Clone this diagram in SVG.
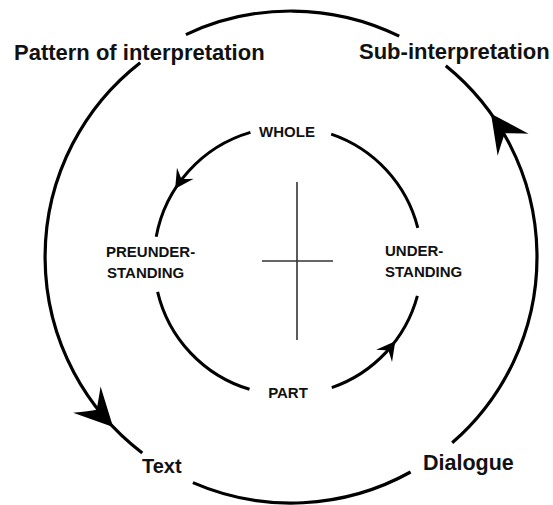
<svg xmlns="http://www.w3.org/2000/svg" xmlns:xlink="http://www.w3.org/1999/xlink" width="553" height="505" viewBox="0 0 553 505">
  <style>
    .lbl { font-family: "Liberation Sans", Arial, sans-serif; font-weight: bold; fill: #111; }
    .outer { font-size: 22px; }
    .inner { font-size: 15px; }
    .arc-o { fill: none; stroke: #000; stroke-width: 3.2; stroke-linecap: butt; }
    .arc-i { fill: none; stroke: #000; stroke-width: 3; stroke-linecap: butt; }
    .cross { fill: none; stroke: #333; stroke-width: 1.6; }
    .head { fill: #000; stroke: none; }
  </style>
  <defs>
    <path id="headOuter" class="head" d="M0,0 L-38,-19 Q-28,-6 -24,0 Q-28,6 -38,19 Z"/>
    <path id="headInner" class="head" d="M1.5,0 L-17,-10 Q-12,-3 -10,0 Q-12,3 -17,10 Z"/>
  </defs>
  <rect width="553" height="505" fill="#fff"/>

  <g id="connectors">
    <!-- outer cycle -->
    <path id="outer-top" class="arc-o" d="M399.2,36.1 A246,246 0 0 0 185.9,34.6"/>
    <path id="outer-left" class="arc-o" d="M140.2,62.7 A246,246 0 0 0 142.3,452.9"/>
    <path id="outer-bottom" class="arc-o" d="M192.9,482.6 A246,246 0 0 0 410.6,472.0"/>
    <path id="outer-right" class="arc-o" d="M452.2,442.8 A246,246 0 0 0 445.8,65.8"/>
    <use xlink:href="#headOuter" href="#headOuter" transform="translate(113.1,427) rotate(46.3)"/>
    <use xlink:href="#headOuter" href="#headOuter" transform="translate(491,113.8) rotate(-125.6)"/>
    <!-- inner cycle -->
    <path id="inner-tl" class="arc-i" d="M250.4,132.4 A134,134 0 0 0 156.2,236.8"/>
    <path id="inner-bl" class="arc-i" d="M157.6,291.8 A134,134 0 0 0 249.5,389.3"/>
    <path id="inner-br" class="arc-i" d="M331.8,387.6 A134,134 0 0 0 417.4,295.9"/>
    <path id="inner-tr" class="arc-i" d="M417.8,227.9 A134,134 0 0 0 331.2,134.2"/>
    <use xlink:href="#headInner" href="#headInner" transform="translate(176,187.4) rotate(123.3)"/>
    <use xlink:href="#headInner" href="#headInner" transform="translate(394.4,342.4) rotate(-52.6)"/>
  </g>

  <g id="cross">
    <line class="cross" x1="297" y1="182" x2="297" y2="340"/>
    <line class="cross" x1="262" y1="261" x2="333" y2="261"/>
  </g>

  <g id="node-pattern"><text class="lbl outer" x="14" y="60">Pattern of interpretation</text></g>
  <g id="node-sub"><text class="lbl outer" x="359" y="59">Sub-interpretation</text></g>
  <g id="node-text"><text class="lbl outer" x="142" y="473" style="font-size:20px">Text</text></g>
  <g id="node-dialogue"><text class="lbl outer" x="423" y="470" style="font-size:21.5px">Dialogue</text></g>

  <g id="node-whole"><text class="lbl inner" x="287" y="137" text-anchor="middle">WHOLE</text></g>
  <g id="node-preunderstanding"><text class="lbl inner" x="106" y="257">PREUNDER-</text><text class="lbl inner" x="107" y="278">STANDING</text></g>
  <g id="node-understanding"><text class="lbl inner" x="385" y="256">UNDER-</text><text class="lbl inner" x="385" y="277">STANDING</text></g>
  <g id="node-part"><text class="lbl inner" x="288" y="398" text-anchor="middle">PART</text></g>
</svg>
